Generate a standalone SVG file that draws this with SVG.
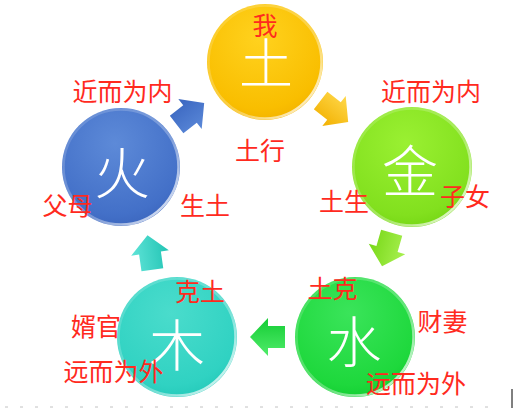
<svg xmlns="http://www.w3.org/2000/svg" width="516" height="420" viewBox="0 0 516 420">
<defs>
<radialGradient id="gY" cx="0.45" cy="0.3" r="0.75"><stop offset="0" stop-color="#FFD21E"/><stop offset="0.8" stop-color="#F9BE00"/><stop offset="1" stop-color="#F2B000"/></radialGradient>
<radialGradient id="gL" cx="0.45" cy="0.3" r="0.75"><stop offset="0" stop-color="#9AF032"/><stop offset="0.8" stop-color="#82E01E"/><stop offset="1" stop-color="#72D412"/></radialGradient>
<radialGradient id="gG" cx="0.45" cy="0.3" r="0.75"><stop offset="0" stop-color="#3AE45A"/><stop offset="0.8" stop-color="#1ED83C"/><stop offset="1" stop-color="#10CC30"/></radialGradient>
<radialGradient id="gT" cx="0.45" cy="0.3" r="0.75"><stop offset="0" stop-color="#4ADCCC"/><stop offset="0.8" stop-color="#30D2C2"/><stop offset="1" stop-color="#22C8B8"/></radialGradient>
<radialGradient id="gB" cx="0.45" cy="0.3" r="0.75"><stop offset="0" stop-color="#5D8AD8"/><stop offset="0.8" stop-color="#4370C8"/><stop offset="1" stop-color="#3A64BC"/></radialGradient>
<linearGradient id="rim" x1="0" y1="0" x2="1" y2="1"><stop offset="0" stop-color="#fff" stop-opacity="0.1"/><stop offset="0.6" stop-color="#fff" stop-opacity="0.3"/><stop offset="1" stop-color="#fff" stop-opacity="0.95"/></linearGradient>
<linearGradient id="aY" x1="0" y1="-19" x2="0" y2="19" gradientUnits="userSpaceOnUse"><stop offset="0" stop-color="#FFD84A"/><stop offset="1" stop-color="#F2B000"/></linearGradient>
<linearGradient id="aL" x1="0" y1="-19" x2="0" y2="19" gradientUnits="userSpaceOnUse"><stop offset="0" stop-color="#A8F050"/><stop offset="1" stop-color="#78D818"/></linearGradient>
<linearGradient id="aG" x1="0" y1="-19" x2="0" y2="19" gradientUnits="userSpaceOnUse"><stop offset="0" stop-color="#50EC6A"/><stop offset="1" stop-color="#14CC34"/></linearGradient>
<linearGradient id="aT" x1="0" y1="-19" x2="0" y2="19" gradientUnits="userSpaceOnUse"><stop offset="0" stop-color="#60E4D8"/><stop offset="1" stop-color="#22C4B4"/></linearGradient>
<linearGradient id="aB" x1="0" y1="-19" x2="0" y2="19" gradientUnits="userSpaceOnUse"><stop offset="0" stop-color="#3A66C0"/><stop offset="1" stop-color="#5A88D8"/></linearGradient>
<path id="arr" d="M18,0 L0,-19 L0,-11 L-17,-11 L-17,11 L0,11 L0,19 Z"/>
</defs>
<style>
.big{font-family:"Noto Sans CJK SC","Noto Sans CJK JP",sans-serif;font-weight:300;fill:#fff;text-anchor:middle}
.lbl{font-family:"Noto Sans CJK SC","Noto Sans CJK JP",sans-serif;font-size:25px;fill:#FF2A1E;text-anchor:middle}
.rimc{fill:none;stroke:url(#rim);stroke-width:2.5}
</style>
<rect width="516" height="420" fill="#fff"/>
<g id="connectors">
<use href="#arr" fill="url(#aB)" transform="translate(190,114) rotate(-38)"/>
<use href="#arr" fill="url(#aY)" transform="translate(334,111) rotate(38)"/>
<use href="#arr" fill="url(#aL)" transform="translate(387,249) rotate(106)"/>
<use href="#arr" fill="url(#aG)" transform="translate(268,337) rotate(180)"/>
<use href="#arr" fill="url(#aT)" transform="translate(150,253) rotate(-98)"/>
</g>
<g id="node-tu">
<circle cx="265" cy="62" r="58" fill="url(#gY)"/>
<circle cx="265" cy="62" r="56.5" class="rimc"/>
<text x="266" y="84" class="big" font-size="54">土</text>
<text x="265" y="35" class="lbl">我</text>
</g>
<g id="node-jin">
<circle cx="412" cy="167" r="60" fill="url(#gL)"/>
<circle cx="412" cy="167" r="58.5" class="rimc"/>
<text x="410" y="192" class="big" font-size="56">金</text>
</g>
<g id="node-shui">
<circle cx="355" cy="337" r="60" fill="url(#gG)"/>
<circle cx="355" cy="337" r="58.5" class="rimc"/>
<text x="354" y="362" class="big" font-size="55">水</text>
</g>
<g id="node-mu">
<circle cx="177" cy="337" r="60" fill="url(#gT)"/>
<circle cx="177" cy="337" r="58.5" class="rimc"/>
<text x="177" y="366" class="big" font-size="56">木</text>
</g>
<g id="node-huo">
<circle cx="121" cy="167" r="59" fill="url(#gB)"/>
<circle cx="121" cy="167" r="57.5" class="rimc"/>
<text x="122" y="194" class="big" font-size="56">火</text>
</g>
<g id="labels">
<text x="122.5" y="101" class="lbl">近而为内</text>
<text x="431" y="101" class="lbl">近而为内</text>
<text x="260" y="160" class="lbl" font-size="24">土行</text>
<text x="67.5" y="215" class="lbl">父母</text>
<text x="205" y="215" class="lbl">生土</text>
<text x="344" y="211" class="lbl">土生</text>
<text x="465" y="206" class="lbl">子女</text>
<text x="200" y="301" class="lbl">克土</text>
<text x="332.5" y="298" class="lbl">土克</text>
<text x="96" y="336" class="lbl">婿官</text>
<text x="442.5" y="331" class="lbl">财妻</text>
<text x="113.5" y="381" class="lbl">远而为外</text>
<text x="416" y="393" class="lbl">远而为外</text>
</g>
<line x1="5" y1="407" x2="500" y2="407" stroke="#aaa" stroke-width="1" stroke-dasharray="3,12" opacity="0.7"/>
<line x1="512" y1="389" x2="512" y2="408" stroke="#000" stroke-width="1"/>
</svg>
